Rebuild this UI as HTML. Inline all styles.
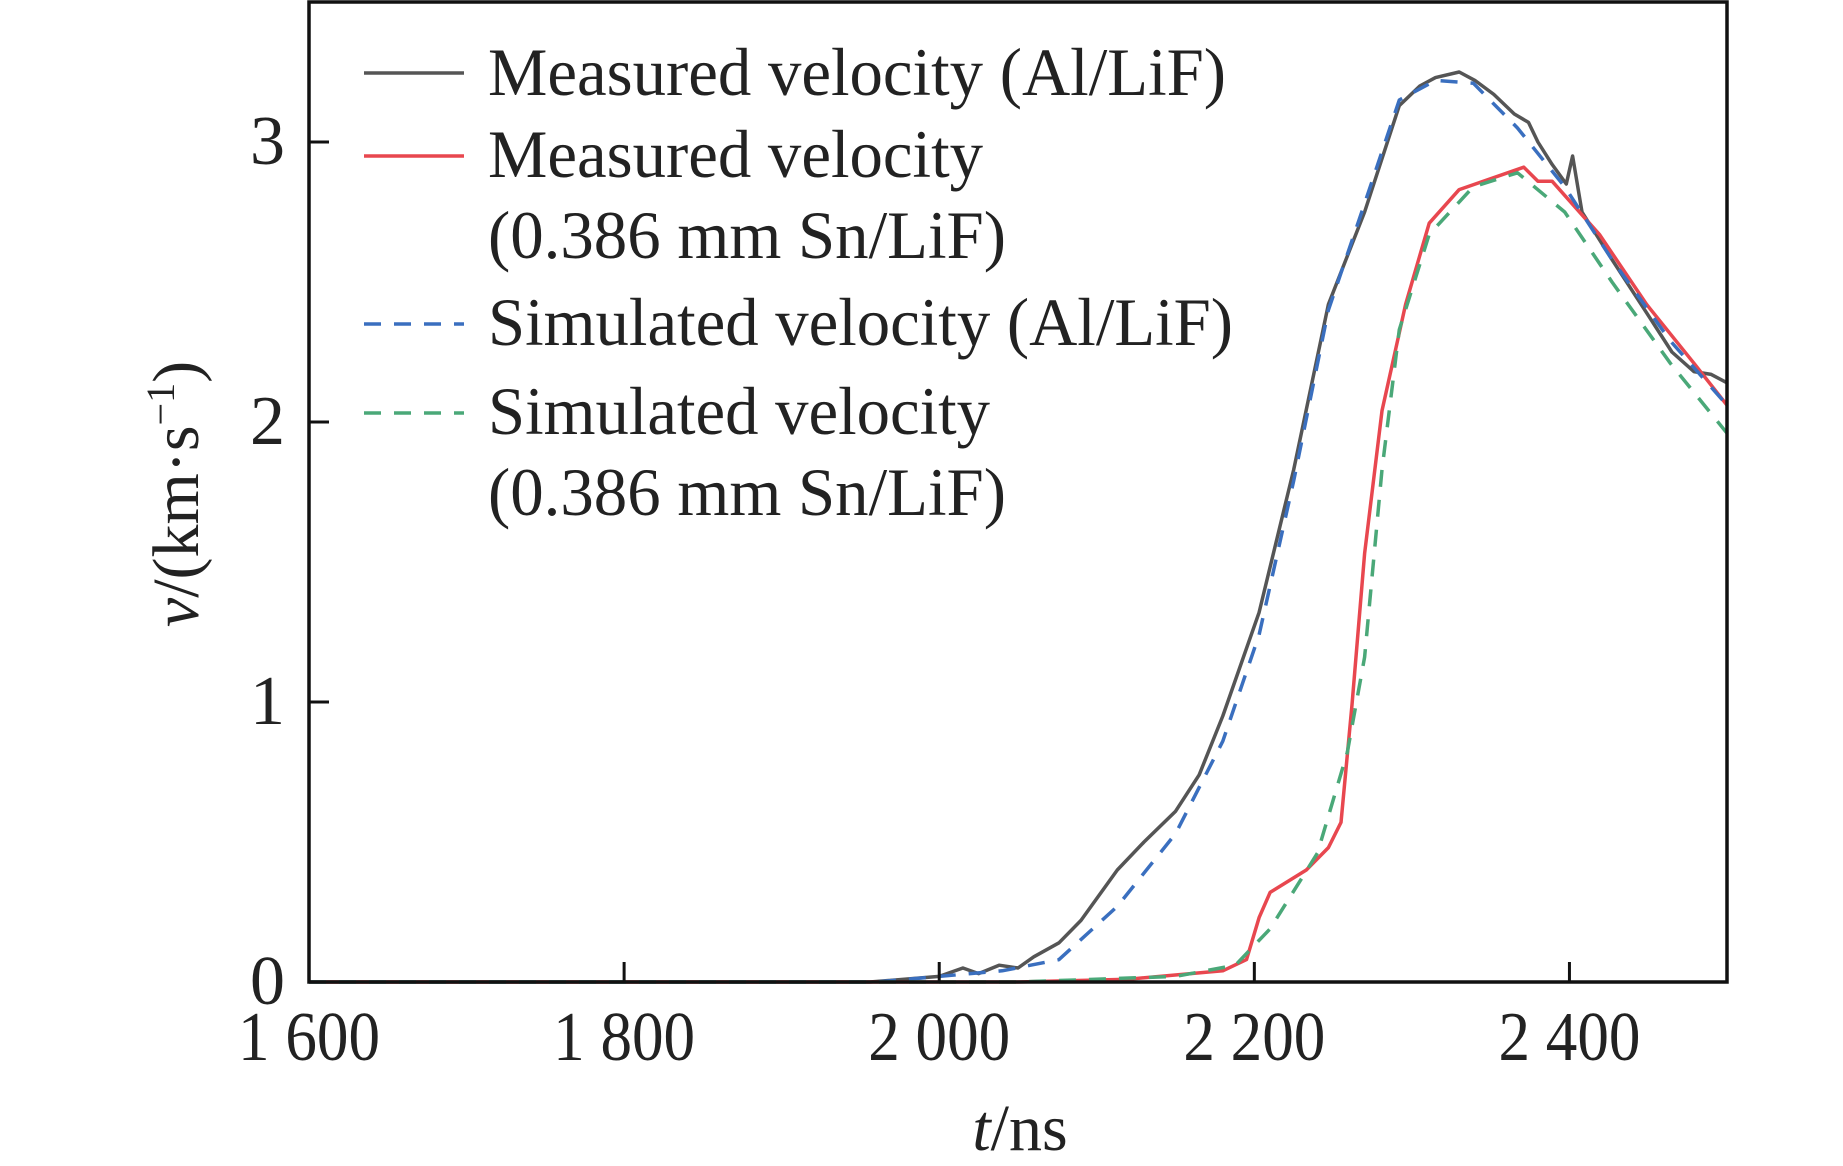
<!DOCTYPE html>
<html><head><meta charset="utf-8"><style>html,body{margin:0;padding:0;background:#fff}svg{display:block}text{font-family:"Liberation Serif",serif;fill:#222}</style></head>
<body>
<svg id="chart" width="1843" height="1166" viewBox="0 0 1843 1166" xmlns="http://www.w3.org/2000/svg">
<g id="series"></g>
<rect x="309" y="2" width="1418" height="980" fill="none" stroke="#111" stroke-width="3.5"/>
<g id="axes"></g>
<g>
<line x1="364" y1="73" x2="464" y2="73" stroke="#555" stroke-width="3.5"/>
<text x="488" y="95" font-size="68" textLength="738" lengthAdjust="spacingAndGlyphs">Measured velocity (Al/LiF)</text>
<line x1="364" y1="156" x2="464" y2="156" stroke="#e8474f" stroke-width="3.5"/>
<text x="488" y="177" font-size="68" textLength="495" lengthAdjust="spacingAndGlyphs">Measured velocity</text>
<text x="488" y="258" font-size="68" textLength="518" lengthAdjust="spacingAndGlyphs">(0.386 mm Sn/LiF)</text>
<line x1="364" y1="324" x2="464" y2="324" stroke="#3a6fbf" stroke-width="3.5" stroke-dasharray="17,13"/>
<text x="488" y="345" font-size="68" textLength="745" lengthAdjust="spacingAndGlyphs">Simulated velocity (Al/LiF)</text>
<line x1="364" y1="413" x2="464" y2="413" stroke="#4aa878" stroke-width="3.5" stroke-dasharray="17,13"/>
<text x="488" y="434" font-size="68" textLength="502" lengthAdjust="spacingAndGlyphs">Simulated velocity</text>
<text x="488" y="515" font-size="68" textLength="518" lengthAdjust="spacingAndGlyphs">(0.386 mm Sn/LiF)</text>
</g>
<text x="1020" y="1150" font-size="66" text-anchor="middle"><tspan font-style="italic">t</tspan>/ns</text>
<text transform="translate(198,494) rotate(-90)" font-size="66" text-anchor="middle"><tspan font-style="italic">v</tspan>/(km·s<tspan font-size="40" dy="-24">−1</tspan><tspan dy="24">)</tspan></text>
</svg>
<script>
const xTicks=[1600,1800,2000,2200,2400];
const xTickLabels=["1 600","1 800","2 000","2 200","2 400"];
const yTicks=[0,1,2,3];
const yTickLabels=["0","1","2","3"];
const measAlT=[1600,1956,2000,2015,2025,2038,2050,2060,2076,2090,2113,2130,2150,2165,2180,2203,2225,2247,2270,2292,2305,2315,2330,2340,2352,2365,2374,2380,2389,2398,2402,2408,2427,2449,2465,2479,2490,2500];
const measAlV=[0,0,0.02,0.05,0.03,0.06,0.05,0.09,0.14,0.22,0.4,0.5,0.61,0.74,0.95,1.32,1.83,2.42,2.75,3.13,3.2,3.23,3.25,3.22,3.17,3.1,3.07,3.0,2.92,2.85,2.95,2.75,2.58,2.39,2.25,2.18,2.17,2.14];
const simAlT=[1600,1960,2000,2040,2076,2113,2150,2180,2203,2225,2247,2270,2292,2315,2339,2367,2397,2427,2464,2500];
const simAlV=[0,0,0.02,0.04,0.08,0.27,0.53,0.86,1.24,1.79,2.4,2.78,3.15,3.22,3.21,3.05,2.84,2.58,2.29,2.06];
const measSnT=[1600,2050,2120,2180,2195,2203,2210,2233,2247,2255,2262,2270,2281,2296,2311,2330,2371,2380,2389,2419,2449,2479,2500];
const measSnV=[0,0,0.01,0.04,0.08,0.23,0.32,0.4,0.48,0.57,0.99,1.53,2.04,2.42,2.71,2.83,2.91,2.86,2.86,2.67,2.42,2.21,2.06];
const simSnT=[1600,2050,2150,2188,2210,2240,2259,2270,2281,2292,2311,2339,2367,2397,2427,2464,2500];
const simSnV=[0,0,0.02,0.06,0.19,0.46,0.82,1.16,1.83,2.33,2.67,2.84,2.89,2.75,2.5,2.21,1.96];
const X0=309,X1=1727,Y0=982,Y1=2;
const xs=t=>X0+(t-1600)/(2500-1600)*(X1-X0);
const ys=v=>Y0-v/3.5*(Y0-Y1);
const NS="http://www.w3.org/2000/svg";
const axes=document.getElementById('axes'),series=document.getElementById('series');
function mk(tag,attrs,parent){const e=document.createElementNS(NS,tag);for(const k in attrs)e.setAttribute(k,attrs[k]);parent.appendChild(e);return e;}
xTicks.forEach((t,i)=>{
 const l=mk('line',{x1:xs(t),x2:xs(t),y1:Y0,y2:Y0-20,stroke:'#111','stroke-width':3},axes);
 
 
 const tx=mk('text',{x:xs(t),y:1060,'font-size':70,'text-anchor':'middle',textLength:142,lengthAdjust:'spacingAndGlyphs'},axes);
 tx.textContent=xTickLabels[i];
 
 
});
yTicks.forEach((v,i)=>{
 const l=mk('line',{x1:X0,x2:X0+20,y1:ys(v),y2:ys(v),stroke:'#111','stroke-width':3},axes);
 
 
 const tx=mk('text',{x:285,y:ys(v)+22,'font-size':70,'text-anchor':'end'},axes);
 tx.textContent=yTickLabels[i];
 
 
});
function draw(T,V,color,dash,name){
 const d=T.map((t,i)=>(i?'L':'M')+xs(t).toFixed(1)+','+ys(V[i]).toFixed(1)).join(' ');
 const p=mk('path',{d:d,fill:'none',stroke:color,'stroke-width':3.5,'stroke-linejoin':'round'},series);
 if(dash)p.setAttribute('stroke-dasharray',dash);
 
 
}
draw(measAlT,measAlV,'#555',null,'measured-al-line');
draw(measSnT,measSnV,'#e8474f',null,'measured-sn-line');
draw(simAlT,simAlV,'#3a6fbf','17,13','simulated-al-line');
draw(simSnT,simSnV,'#4aa878','17,13','simulated-sn-line');
</script>
</body></html>
